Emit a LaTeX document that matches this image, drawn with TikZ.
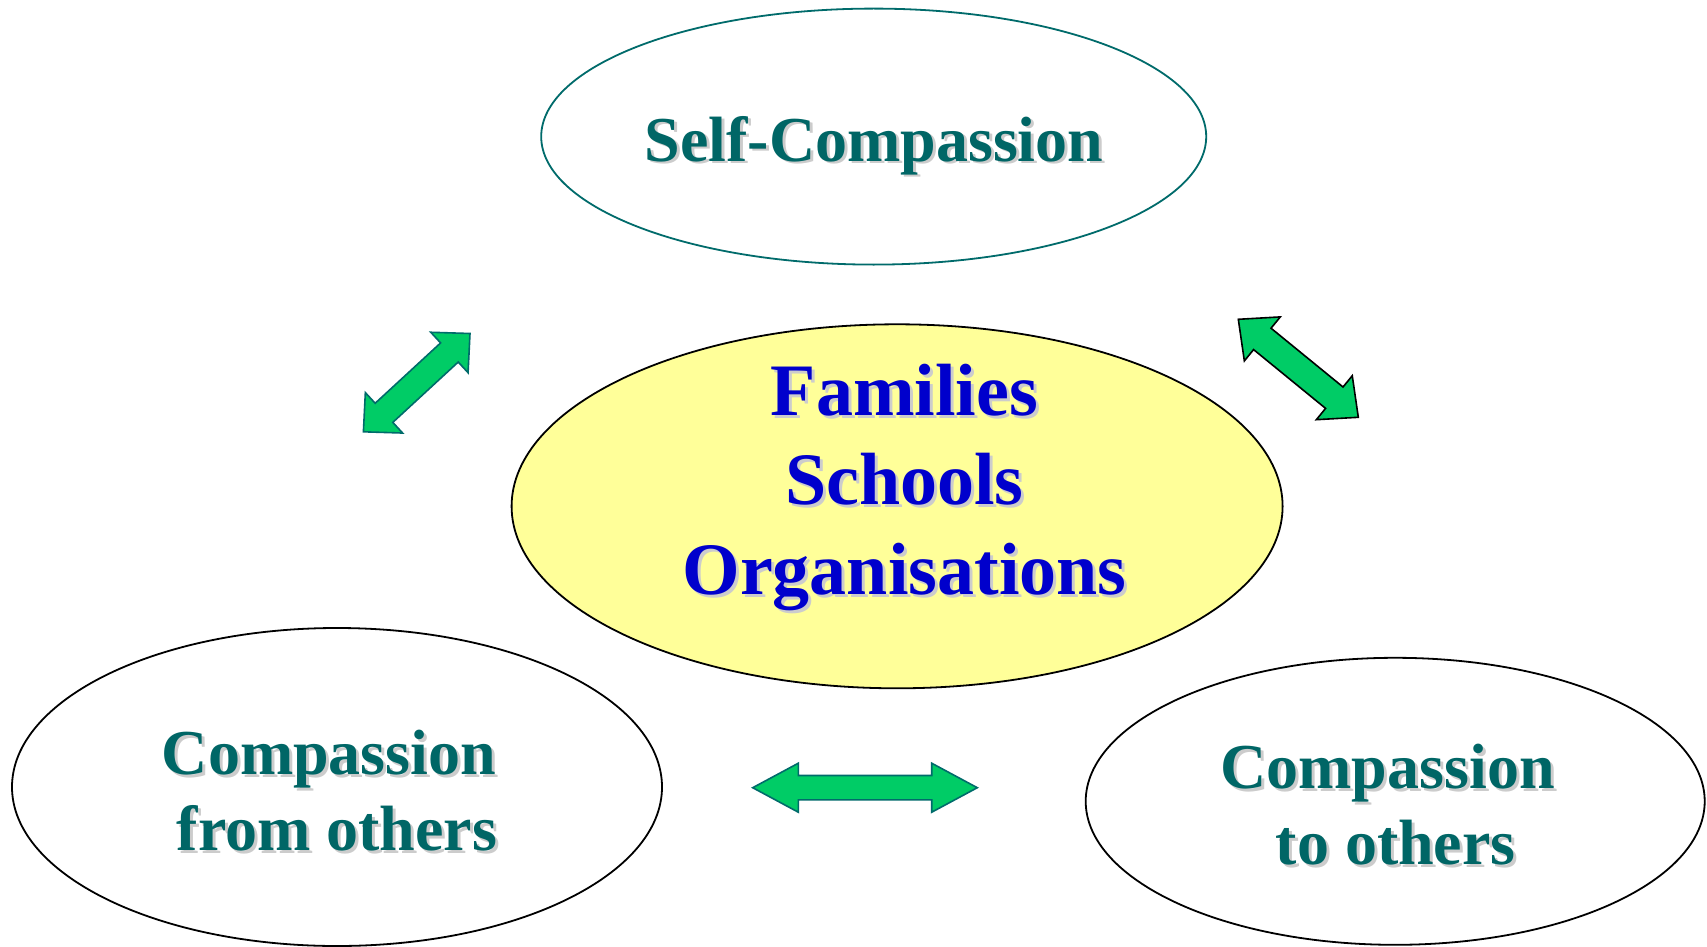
\documentclass[tikz,border=0pt]{standalone}
\usepackage{fontspec}
\setmainfont{Liberation Serif}
\usetikzlibrary{shapes.geometric,calc}
\definecolor{tealtxt}{HTML}{006666}
\definecolor{tealline}{HTML}{006B6B}
\definecolor{arrowgreen}{HTML}{00CC66}
\definecolor{paleyellow}{HTML}{FFFF99}
\definecolor{deepblue}{HTML}{0000CC}
\tikzset{
  oval/.style={ellipse, draw, line width=1.8pt, inner sep=0pt},
  lbl/.style={anchor=base, inner sep=0pt, font=\bfseries\fontsize{64}{76}\selectfont},
  biglbl/.style={anchor=base, inner sep=0pt, font=\bfseries\fontsize{74}{89}\selectfont},
  shadowlbl/.style={lbl, text=black!20},
  bigshadow/.style={biglbl, text=black!20},
  blockarrow/.style={fill=arrowgreen, line width=1.6pt, line join=miter},
}
% double block arrow between tips #2 and #3; head length #4, head half width #5, shaft half width #6
\newcommand\dblblockarrow[6][]{%
  \draw[blockarrow,#1] (#2)
    -- ($(#2)!#4!(#3)!#5!90:(#3)$)
    -- ($(#2)!#4!(#3)!#6!90:(#3)$)
    -- ($(#3)!#4!(#2)!#6!-90:(#2)$)
    -- ($(#3)!#4!(#2)!#5!-90:(#2)$)
    -- (#3)
    -- ($(#3)!#4!(#2)!#5!90:(#2)$)
    -- ($(#3)!#4!(#2)!#6!90:(#2)$)
    -- ($(#2)!#4!(#3)!#6!-90:(#3)$)
    -- ($(#2)!#4!(#3)!#5!-90:(#3)$)
    -- cycle;}
\begin{document}
\begin{tikzpicture}[x=1pt,y=-1pt]
\useasboundingbox (0,0) rectangle (1707,947);
\fill[white] (0,0) rectangle (1707,947);
% ellipses
\node[oval, draw=tealline, minimum width=665pt, minimum height=256pt] (self) at (873.7,136.6) {};
\node[oval, draw=black, fill=paleyellow, minimum width=771pt, minimum height=364pt] (center) at (897.1,506.3) {};
\node[oval, draw=black, minimum width=650pt, minimum height=318pt] (from) at (337,787) {};
\node[oval, draw=black, minimum width=619pt, minimum height=287pt] (to) at (1395.2,801.3) {};
% labels
\node[shadowlbl] (selfs) at (877,164) {Self-Compassion};
\node[lbl, text=tealtxt] (selft) at (874,161) {Self-Compassion};
\node[bigshadow] (fams) at (907.5,418) {Families};
\node[biglbl, text=deepblue] (fam) at (904.5,415) {Families};
\node[bigshadow] (schs) at (907.5,507) {Schools};
\node[biglbl, text=deepblue] (sch) at (904.5,504) {Schools};
\node[bigshadow] (orgs) at (907.5,597) {Organisations};
\node[biglbl, text=deepblue] (org) at (904.5,594) {Organisations};
\node[shadowlbl] (fromAs) at (332,777) {Compassion};
\node[lbl, text=tealtxt] (fromA) at (329,774) {Compassion};
\node[shadowlbl] (fromBs) at (340,853) {from others};
\node[lbl, text=tealtxt] (fromB) at (337,850) {from others};
\node[shadowlbl] (toAs) at (1390.6,791) {Compassion};
\node[lbl, text=tealtxt] (toA) at (1387.6,788) {Compassion};
\node[shadowlbl] (toBs) at (1398.7,867.5) {to others};
\node[lbl, text=tealtxt] (toB) at (1395.7,864.5) {to others};
% arrow tips
\coordinate (tlA) at (363.4,431.8);
\coordinate (tlB) at (470,333.5);
\coordinate (trA) at (1238.3,319.3);
\coordinate (trB) at (1358.3,417.3);
\coordinate (hA) at (752.7,787.7);
\coordinate (hB) at (977.3,787.7);
\dblblockarrow[draw=tealline]{tlA}{tlB}{28pt}{27.5pt}{13pt}
\dblblockarrow[draw=black]{trA}{trB}{31pt}{28.4pt}{13.8pt}
\dblblockarrow[draw=tealline]{hA}{hB}{45.6pt}{24.5pt}{12.2pt}
\end{tikzpicture}
\end{document}
